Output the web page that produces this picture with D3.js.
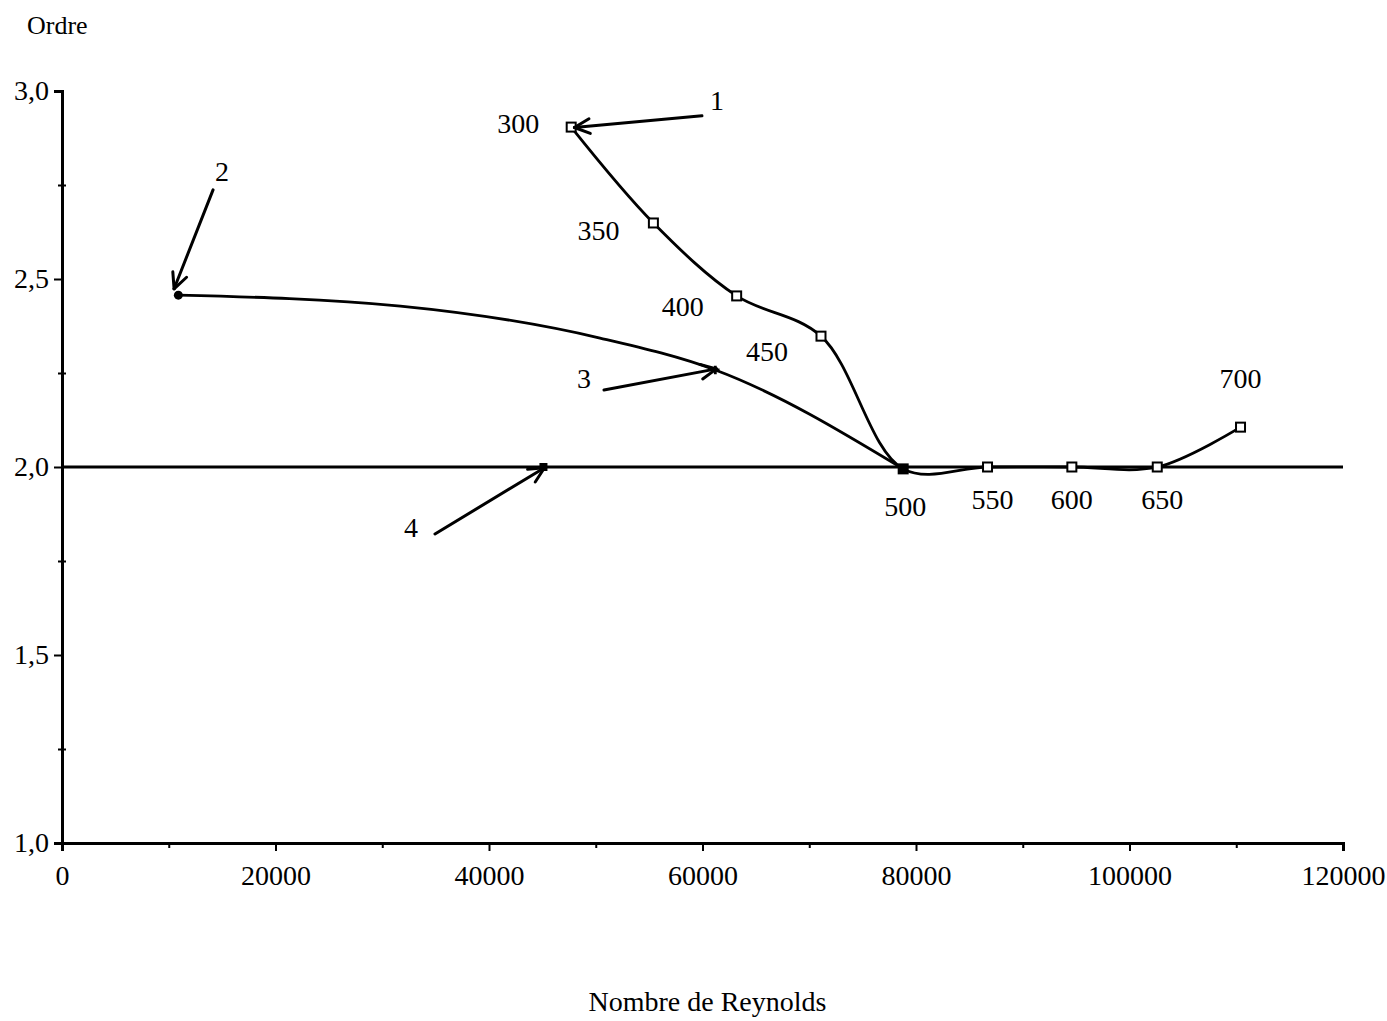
<!DOCTYPE html>
<html>
<head>
<meta charset="utf-8">
<script src="https://cdn.jsdelivr.net/npm/d3@7"></script>
<style>
  html, body { margin: 0; padding: 0; background: #fff; }
  text { font-family: "Liberation Serif", "Times New Roman", serif; fill: #000; }
</style>
</head>
<body>
<svg id="chart" width="1387" height="1021"></svg>
<script>
// ---- Data ----
const xTickValues = [0, 20000, 40000, 60000, 80000, 100000, 120000];
const xMinorTickValues = [10000, 30000, 50000, 70000, 90000, 110000];
const yTickValues = [1.0, 1.5, 2.0, 2.5, 3.0];
const yTickLabels = ["1,0", "1,5", "2,0", "2,5", "3,0"];
const yMinorTickValues = [1.25, 1.75, 2.25, 2.75];

// Series 1 (open squares, labelled)
const reynolds1 = [47700, 55400, 63200, 71100, 78800, 86700, 94600, 102600, 110400];
const ordre1 = [2.904, 2.649, 2.455, 2.348, 1.995, 2.0, 2.0, 2.0, 2.106];
const pointLabels1 = ["300", "350", "400", "450", "500", "550", "600", "650", "700"];

// Series 2 (round marker at start, cross marker at 4th point)
const reynolds2 = [10900, 31700, 50400, 61200, 78800];
const ordre2 = [2.457, 2.428, 2.343, 2.258, 1.995];
const markerIndex2 = [0, 3];

// Series 3 (horizontal line at order 2)
const reynolds3 = [0, 45100, 120000];
const ordre3 = [2.0, 2.0, 2.0];

// Annotation arrows: label, tail (x,y), tip (x,y), label position (x,y)
const arrowLabels = ["1", "2", "3", "4"];
const arrowTailX = [59950, 14150, 50770, 34940];
const arrowTailY = [2.934, 2.737, 2.205, 1.822];
const arrowTipX = [48000, 10500, 61300, 45200];
const arrowTipY = [2.903, 2.474, 2.261, 1.998];
const arrowLabelX = [61360, 14990, 48900, 32690];
const arrowLabelY = [2.976, 2.785, 2.235, 1.838];

const xTitle = "Nombre de Reynolds";
const yTitle = "Ordre";

// ---- Layout / style ----
const plot = { left: 62, right: 1343, top: 91, bottom: 843 };
const FS = 28;
const labelOffsets = [[-53, -4], [-55, 8], [-54, 11], [-54, 15], [2, 38], [5, 32], [0, 32], [5, 32], [0, -49]];

const svg = d3.select("#chart");
const x = d3.scaleLinear().domain([0, 120000]).range([plot.left, plot.right]);
const y = d3.scaleLinear().domain([1.0, 3.0]).range([plot.bottom, plot.top]);

// X axis
const xAxis = d3.axisBottom(x).tickValues(xTickValues).tickFormat(d3.format("d")).tickSize(8).tickPadding(14);
const gx = svg.append("g").attr("transform", `translate(0,${plot.bottom})`).call(xAxis);
gx.select(".domain").attr("stroke", "#000").attr("stroke-width", 3);
gx.selectAll(".tick line").attr("stroke", "#000").attr("stroke-width", 2);
gx.selectAll(".tick text").attr("font-size", FS).attr("font-family", "Liberation Serif");
const gxm = svg.append("g").attr("transform", `translate(0,${plot.bottom})`)
  .call(d3.axisBottom(x).tickValues(xMinorTickValues).tickFormat("").tickSize(5));
gxm.select(".domain").remove();
gxm.selectAll(".tick line").attr("stroke", "#000").attr("stroke-width", 2);

// Y axis
const yAxis = d3.axisLeft(y).tickValues(yTickValues).tickFormat((d, i) => yTickLabels[i]).tickSize(8).tickPadding(5);
const gy = svg.append("g").attr("transform", `translate(${plot.left},0)`).call(yAxis);
gy.select(".domain").attr("stroke", "#000").attr("stroke-width", 3);
gy.selectAll(".tick line").attr("stroke", "#000").attr("stroke-width", 2);
gy.selectAll(".tick text").attr("font-size", FS).attr("font-family", "Liberation Serif");
const gym = svg.append("g").attr("transform", `translate(${plot.left},0)`)
  .call(d3.axisLeft(y).tickValues(yMinorTickValues).tickFormat("").tickSizeInner(5).tickSizeOuter(0));
gym.select(".domain").remove();
gym.selectAll(".tick line").attr("stroke", "#000").attr("stroke-width", 2).attr("x2", 4).attr("x1", -4);

// Titles
svg.append("text").attr("x", 27).attr("y", 34).attr("font-size", 26).text(yTitle);
svg.append("text").attr("x", (plot.left + plot.right) / 2 + 5).attr("y", 1011)
  .attr("text-anchor", "middle").attr("font-size", FS).text(xTitle);

// Series 3
const s3 = reynolds3.map((d, i) => [d, ordre3[i]]);
svg.append("path").datum(s3)
  .attr("d", d3.line().x(d => x(d[0])).y(d => y(d[1])))
  .attr("fill", "none").attr("stroke", "#000").attr("stroke-width", 3);
svg.append("rect").attr("x", x(s3[1][0]) - 4).attr("y", y(s3[1][1]) - 4)
  .attr("width", 8).attr("height", 8).attr("fill", "#000");

// Series 2
const s2 = reynolds2.map((d, i) => [d, ordre2[i]]);
svg.append("path").datum(s2)
  .attr("d", d3.line().curve(d3.curveMonotoneX).x(d => x(d[0])).y(d => y(d[1])))
  .attr("fill", "none").attr("stroke", "#000").attr("stroke-width", 2.8);
svg.append("circle").attr("cx", x(s2[markerIndex2[0]][0])).attr("cy", y(s2[markerIndex2[0]][1])).attr("r", 4.5).attr("fill", "#000");
svg.append("path").attr("transform", `translate(${x(s2[markerIndex2[1]][0])},${y(s2[markerIndex2[1]][1])})`)
  .attr("d", d3.symbol(d3.symbolCross, 40)()).attr("fill", "#000");

// Series 1
const s1 = reynolds1.map((d, i) => [d, ordre1[i]]);
svg.append("path").datum(s1)
  .attr("d", d3.line().curve(d3.curveCatmullRom.alpha(0.5)).x(d => x(d[0])).y(d => y(d[1])))
  .attr("fill", "none").attr("stroke", "#000").attr("stroke-width", 2.8);
svg.selectAll(".m1").data(s1).enter().append("rect")
  .attr("x", d => x(d[0]) - 4.5).attr("y", d => y(d[1]) - 4.5)
  .attr("width", 9).attr("height", 9)
  .attr("fill", (d, i) => i === 4 ? "#000" : "#fff")
  .attr("stroke", "#000").attr("stroke-width", 2);
svg.selectAll(".l1").data(s1).enter().append("text")
  .attr("x", (d, i) => x(d[0]) + labelOffsets[i][0])
  .attr("y", (d, i) => y(d[1]) + labelOffsets[i][1])
  .attr("text-anchor", "middle").attr("dominant-baseline", "central")
  .attr("font-size", FS).text((d, i) => pointLabels1[i]);

// Arrows
arrowLabels.forEach((lab, i) => {
  const x0 = x(arrowTailX[i]), y0 = y(arrowTailY[i]);
  const x1 = x(arrowTipX[i]), y1 = y(arrowTipY[i]);
  svg.append("line").attr("x1", x0).attr("y1", y0).attr("x2", x1).attr("y2", y1)
    .attr("stroke", "#000").attr("stroke-width", 3).attr("stroke-linecap", "round");
  const ang = Math.atan2(y0 - y1, x0 - x1);
  const len = 17, spread = 0.45;
  [ang - spread, ang + spread].forEach(a => {
    svg.append("line").attr("x1", x1).attr("y1", y1)
      .attr("x2", x1 + len * Math.cos(a)).attr("y2", y1 + len * Math.sin(a))
      .attr("stroke", "#000").attr("stroke-width", 3).attr("stroke-linecap", "round");
  });
  svg.append("text").attr("x", x(arrowLabelX[i])).attr("y", y(arrowLabelY[i]))
    .attr("text-anchor", "middle").attr("dominant-baseline", "central")
    .attr("font-size", FS).text(lab);
});
</script>
</body>
</html>
